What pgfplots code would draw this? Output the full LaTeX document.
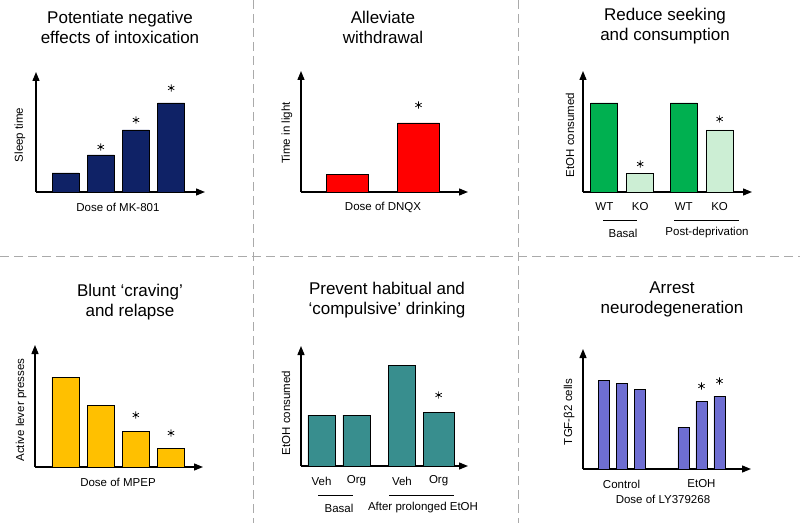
\documentclass[border=0pt]{standalone}
\usepackage{pgfplots}
\pgfplotsset{compat=1.18}
\usetikzlibrary{arrows.meta}
\usepackage{fontspec}
\setmainfont{Liberation Sans}
\definecolor{navy}{RGB}{15,34,102}
\definecolor{pred}{RGB}{255,0,0}
\definecolor{wtgreen}{RGB}{0,176,80}
\definecolor{kogreen}{RGB}{204,238,212}
\definecolor{gold}{RGB}{255,192,0}
\definecolor{teal2}{RGB}{56,142,142}
\definecolor{peri}{RGB}{110,110,210}
\definecolor{sep}{RGB}{170,170,170}
\newcommand{\tfont}{\fontsize{17}{20}\selectfont}
\newcommand{\lfont}{\fontsize{11.5}{13}\selectfont}
\pgfplotsset{
  panel/.style={
    scale only axis, anchor=south west, axis lines=left,
    axis line style={line width=1.3pt, -{Triangle[length=9pt,width=7pt]}},
    ymin=0, xtick=\empty, ytick=\empty, clip=false,
    label style={font=\lfont},
    tick label style={font=\lfont},
    major tick length=0pt,
    xticklabel style={anchor=center, yshift=-15pt},
    xlabel style={anchor=center}, ylabel style={anchor=center},
  },
  bars/.style={ybar, bar shift=0pt, bar width=#1, draw=black, line width=0.8pt},
  stars/.style={only marks, mark=asterisk, mark size=3.6pt, mark options={black, line width=0.7pt}},
}
\begin{document}
\begin{tikzpicture}[x=1pt,y=1pt]
\useasboundingbox (0,0) rectangle (800,523);
% separators
\draw[sep, line width=1pt, dash pattern=on 9pt off 5pt] (253,523) -- (253,0);
\draw[sep, line width=1pt, dash pattern=on 9pt off 5pt] (518,523) -- (518,0);
\draw[sep, line width=1pt, dash pattern=on 9pt off 5pt] (0,267) -- (800,267);

% ---------- Panel 1 ----------
\node[align=center, font=\tfont] at (120,496) {Potentiate negative\\effects of intoxication};
\begin{axis}[panel, at={(36pt,331pt)}, width=169pt, height=120pt,
  xmin=0.16, xmax=4.96, ymax=120,
  xlabel={Dose of MK-801}, ylabel={Sleep time},
  xlabel style={at={(axis description cs:0.485,-0.125)}},
  ylabel style={at={(axis description cs:-0.095,0.475)}}]
\addplot[bars=27pt, fill=navy] coordinates {(1,19) (2,37) (3,62) (4,89)};
\addplot[stars] coordinates {(2,45) (3,72) (4,104)};
\end{axis}

% ---------- Panel 2 ----------
\node[align=center, font=\tfont] at (383,496) {Alleviate\\withdrawal};
\begin{axis}[panel, at={(301pt,331pt)}, width=167pt, height=121pt,
  xmin=0.345, xmax=2.697, ymax=121,
  xlabel={Dose of DNQX}, ylabel={Time in light},
  xlabel style={at={(axis description cs:0.491,-0.124)}},
  ylabel style={at={(axis description cs:-0.084,0.488)}}]
\addplot[bars=42pt, fill=pred] coordinates {(1,18) (2,69)};
\addplot[stars] coordinates {(2,87)};
\end{axis}

% ---------- Panel 3 ----------
\node[align=center, font=\tfont] at (665,497) {Reduce seeking\\and consumption};
\begin{axis}[panel, at={(583pt,331pt)}, width=169pt, height=121pt,
  xmin=0.403, xmax=5.125, ymax=121,
  xtick={1,2,3.22,4.22}, xticklabels={WT,KO,WT,KO},
  ylabel={EtOH consumed},
  ylabel style={at={(axis description cs:-0.077,0.471)}}]
\addplot[bars=27pt, fill=wtgreen] coordinates {(1,89) (3.22,89)};
\addplot[bars=27pt, fill=kogreen] coordinates {(2,19) (4.22,62)};
\addplot[stars] coordinates {(2,28) (4.22,73)};
\end{axis}
\draw[line width=0.8pt] (603,303) -- (637,303);
\draw[line width=0.8pt] (674,303) -- (739,303);
\node[font=\lfont] at (623,290) {Basal};
\node[font=\lfont] at (707,290) {Post-deprivation};

% ---------- Panel 4 ----------
\node[align=center, font=\tfont] at (130,221) {Blunt ‘craving’\\and relapse};
\begin{axis}[panel, at={(35pt,56pt)}, width=168pt, height=122pt,
  xmin=0.134, xmax=4.909, ymax=122,
  xlabel={Dose of MPEP}, ylabel={Active lever presses},
  xlabel style={at={(axis description cs:0.494,-0.123)}},
  ylabel style={at={(axis description cs:-0.083,0.467)}}]
\addplot[bars=27pt, fill=gold] coordinates {(1,90) (2,62) (3,36) (4,19)};
\addplot[stars] coordinates {(3,52) (4,34)};
\end{axis}

% ---------- Panel 5 ----------
\node[align=center, font=\tfont] at (387,223) {Prevent habitual and\\‘compulsive’ drinking};
\begin{axis}[panel, at={(301pt,57pt)}, width=167pt, height=120pt,
  xmin=0.414, xmax=5.19, ymax=120,
  xtick={1,2,3.3,4.35}, xticklabels={Veh,Org,Veh,Org},
  ylabel={EtOH consumed},
  ylabel style={at={(axis description cs:-0.09,0.442)}}]
\addplot[bars=27pt, fill=teal2] coordinates {(1,51) (2,51) (3.3,101)};
\addplot[bars=31pt, fill=teal2] coordinates {(4.35,54)};
\addplot[stars] coordinates {(4.35,71)};
\end{axis}
\draw[line width=0.8pt] (318,28) -- (353,28);
\draw[line width=0.8pt] (389,28) -- (454,28);
\node[font=\lfont] at (339,15) {Basal};
\node[font=\lfont] at (423,15) {After prolonged EtOH};

% ---------- Panel 6 ----------
\node[align=center, font=\tfont] at (672,224) {Arrest\\neurodegeneration};
\begin{axis}[panel, at={(583pt,54pt)}, width=168pt, height=120pt,
  xmin=-0.139, xmax=9.19, ymax=120,
  xtick={2,6.44}, xticklabels={Control,EtOH},
  xlabel={Dose of LY379268}, ylabel={TGF-β2 cells},
  xlabel style={at={(axis description cs:0.476,-0.25)}},
  ylabel style={at={(axis description cs:-0.083,0.475)}}]
\addplot[bars=11pt, fill=peri] coordinates {(1,89) (2,86) (3,80) (5.44,42) (6.44,68) (7.44,73)};
\addplot[stars] coordinates {(6.44,83) (7.44,88)};
\end{axis}
\end{tikzpicture}
\end{document}
